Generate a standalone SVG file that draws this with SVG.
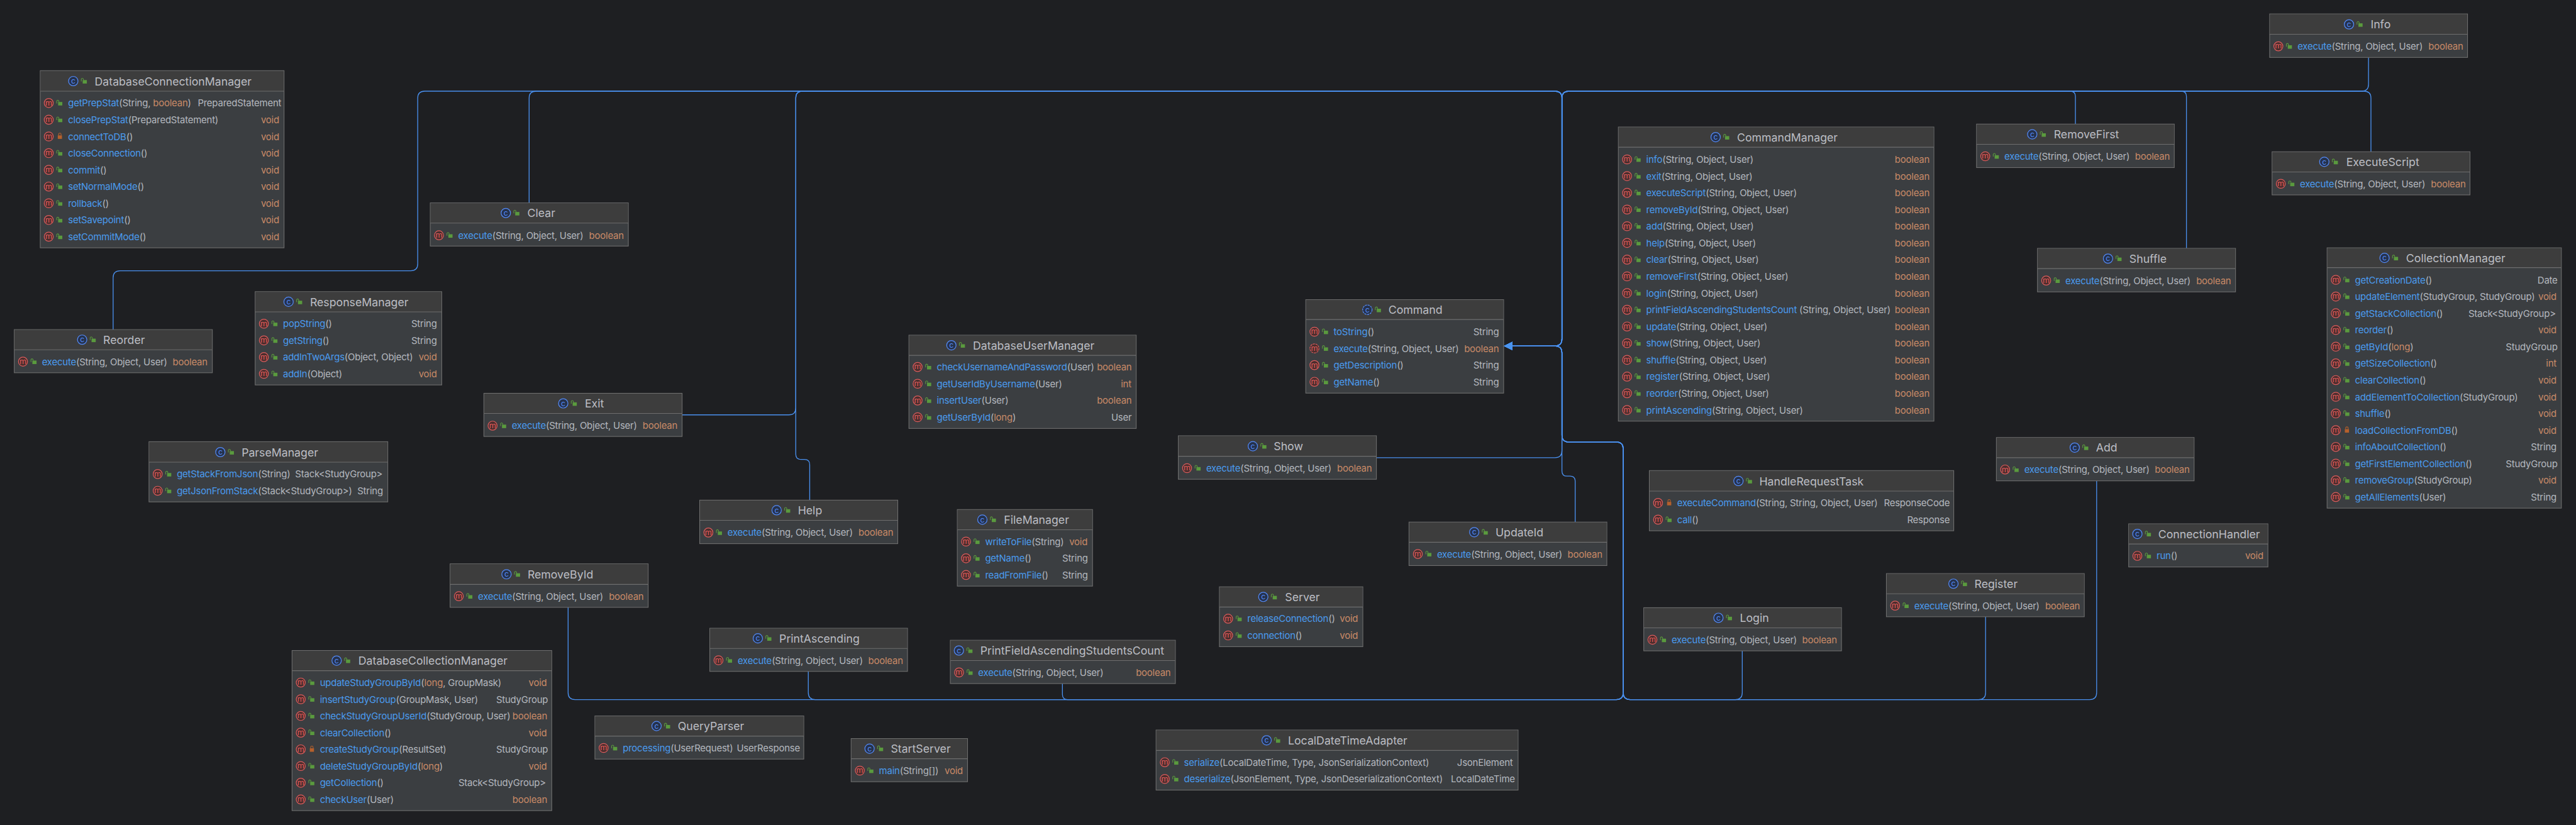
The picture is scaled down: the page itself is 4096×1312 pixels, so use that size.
<svg xmlns="http://www.w3.org/2000/svg" width="4096" height="1312" viewBox="0 0 4096 1312">
<style>
text{font-family:Inter,"Noto Sans","Liberation Sans",sans-serif}
.b{fill:#3B3E41;stroke:#6E6E6E;stroke-width:2}
.h{fill:#3D3D3D}
.l{stroke:#6E6E6E;stroke-width:2}
.T{font-size:32px;fill:#BCBEC4}
.r{font-size:27px;letter-spacing:-.38px;fill:#B4B8BF}
.n{fill:#4A9BEF}
.o{fill:#C98A67}
.t{font-size:27px;letter-spacing:-.38px;fill:#C98A67;text-anchor:end}
.s{font-size:27px;letter-spacing:-.38px;fill:#B4B8BF;text-anchor:end}
.c{fill:none;stroke:#4A90EE;stroke-width:2.4}
.mi{font-size:23px;fill:#E05C5C;text-anchor:middle}
.ci{font-size:22px;fill:#548AF7;text-anchor:middle}
</style>
<defs>
<marker id="arrow" markerUnits="userSpaceOnUse" markerWidth="26" markerHeight="26" refX="0" refY="12" orient="auto"><path d="M0 0V24L25 12Z" fill="#4A94F0"/></marker>
<g id="m"><circle r="13" fill="#4A2D2D" stroke="#DB5C5C" stroke-width="2.2"/><text class="mi" y="7">m</text></g>
<g id="ma"><circle r="13" fill="#4A2D2D" stroke="#DB5C5C" stroke-width="2.2" stroke-dasharray="6 2"/><text class="mi" y="7">m</text></g>
<g id="k"><circle r="13.5" fill="#25324D" stroke="#548AF7" stroke-width="2.2"/><text class="ci" y="7.5">c</text></g>
<g id="ka"><circle r="13.5" fill="#25324D" stroke="#548AF7" stroke-width="2.2" stroke-dasharray="6 2"/><text class="ci" y="7.5">c</text></g>
<g id="u"><rect x="-4" y="-3" width="12" height="10" fill="#5A9A3E"/><path d="M-8 1V-6A3.2 3.2 0 0 1 -2 -6V-3" fill="none" stroke="#5A9A3E" stroke-width="2"/></g>
<g id="p"><rect x="-6" y="-3" width="12" height="10" fill="#B5602C"/><path d="M-3.5 -3V-6A3.5 3.5 0 0 1 3.5 -6V-3" fill="none" stroke="#B5602C" stroke-width="2"/></g>
</defs>
<rect width="4096" height="1312" fill="#1E1F22"/>
<g transform="scale(.55351)">
<g id="connectors">
<path class="c" marker-end="url(#arrow)" d="M325 947V798Q325 778 345 778H1180Q1200 778 1200 758V282Q1200 262 1220 262H4467Q4487 262 4487 282V974Q4487 994 4467 994H4345"/>
<path class="c" marker-end="url(#arrow)" d="M1520 583V282Q1520 262 1540 262H4467Q4487 262 4487 282V974Q4487 994 4467 994H4345"/>
<path class="c" marker-end="url(#arrow)" d="M1960 1192H2266Q2286 1192 2286 1172V282Q2286 262 2306 262H4467Q4487 262 4487 282V974Q4487 994 4467 994H4345"/>
<path class="c" marker-end="url(#arrow)" d="M2326 1437V1335Q2326 1320 2311 1320H2301Q2286 1320 2286 1305V282Q2286 262 2306 262H4467Q4487 262 4487 282V974Q4487 994 4467 994H4345"/>
<path class="c" marker-end="url(#arrow)" d="M6804 165V242Q6804 262 6784 262H4507Q4487 262 4487 282V974Q4487 994 4467 994H4345"/>
<path class="c" marker-end="url(#arrow)" d="M6811 436V282Q6811 262 6791 262H4507Q4487 262 4487 282V974Q4487 994 4467 994H4345"/>
<path class="c" marker-end="url(#arrow)" d="M6281 713V277Q6281 262 6266 262H4507Q4487 262 4487 282V974Q4487 994 4467 994H4345"/>
<path class="c" marker-end="url(#arrow)" d="M5962 356V277Q5962 262 5947 262H4507Q4487 262 4487 282V974Q4487 994 4467 994H4345"/>
<path class="c" marker-end="url(#arrow)" d="M3954 1315H4467Q4487 1315 4487 1295V1014Q4487 994 4467 994H4345"/>
<path class="c" marker-end="url(#arrow)" d="M4525 1500V1383Q4525 1368 4510 1368H4502Q4487 1368 4487 1353V1014Q4487 994 4467 994H4345"/>
<path class="c" marker-end="url(#arrow)" d="M1632 1745V1990Q1632 2010 1652 2010H4643Q4663 2010 4663 1990V1290Q4663 1270 4643 1270H4507Q4487 1270 4487 1250V1014Q4487 994 4467 994H4345"/>
<path class="c" marker-end="url(#arrow)" d="M2322 1929V1990Q2322 2010 2342 2010H4643Q4663 2010 4663 1990V1290Q4663 1270 4643 1270H4507Q4487 1270 4487 1250V1014Q4487 994 4467 994H4345"/>
<path class="c" marker-end="url(#arrow)" d="M3052 1964V1995Q3052 2010 3067 2010H4643Q4663 2010 4663 1990V1290Q4663 1270 4643 1270H4507Q4487 1270 4487 1250V1014Q4487 994 4467 994H4345"/>
<path class="c" marker-end="url(#arrow)" d="M5005 1870V1990Q5005 2010 4985 2010H4683Q4663 2010 4663 1990V1290Q4663 1270 4643 1270H4507Q4487 1270 4487 1250V1014Q4487 994 4467 994H4345"/>
<path class="c" marker-end="url(#arrow)" d="M5704 1772V1990Q5704 2010 5684 2010H4683Q4663 2010 4663 1990V1290Q4663 1270 4643 1270H4507Q4487 1270 4487 1250V1014Q4487 994 4467 994H4345"/>
<path class="c" marker-end="url(#arrow)" d="M6023 1381V1990Q6023 2010 6003 2010H4683Q4663 2010 4663 1990V1290Q4663 1270 4643 1270H4507Q4487 1270 4487 1250V1014Q4487 994 4467 994H4345"/>
</g>

<g id="DatabaseConnectionManager">
<rect class="b" x="115.6" y="203" width="700.4" height="509"/><rect class="h" x="116.6" y="204" width="698.4" height="58"/><path class="l" d="M116 262H816"/>
<use href="#k" x="210.5" y="233"/><use href="#u" x="241.5" y="233"/><text class="T" x="272" y="245">DatabaseConnectionManager</text>
<use href="#m" x="140" y="296"/><use href="#u" x="171" y="296"/><text class="r" x="195.5" y="306"><tspan class="n">getPrepStat</tspan>(String, <tspan class="o">boolean</tspan>)</text><text class="s" x="808" y="306">PreparedStatement</text>
<use href="#m" x="140" y="344"/><use href="#u" x="171" y="344"/><text class="r" x="195.5" y="354"><tspan class="n">closePrepStat</tspan>(PreparedStatement)</text><text class="t" x="802" y="354">void</text>
<use href="#m" x="140" y="392"/><use href="#p" x="172" y="392"/><text class="r" x="195.5" y="402"><tspan class="n">connectToDB</tspan>()</text><text class="t" x="802" y="402">void</text>
<use href="#m" x="140" y="440"/><use href="#u" x="171" y="440"/><text class="r" x="195.5" y="450"><tspan class="n">closeConnection</tspan>()</text><text class="t" x="802" y="450">void</text>
<use href="#m" x="140" y="488"/><use href="#u" x="171" y="488"/><text class="r" x="195.5" y="498"><tspan class="n">commit</tspan>()</text><text class="t" x="802" y="498">void</text>
<use href="#m" x="140" y="536"/><use href="#u" x="171" y="536"/><text class="r" x="195.5" y="546"><tspan class="n">setNormalMode</tspan>()</text><text class="t" x="802" y="546">void</text>
<use href="#m" x="140" y="584"/><use href="#u" x="171" y="584"/><text class="r" x="195.5" y="594"><tspan class="n">rollback</tspan>()</text><text class="t" x="802" y="594">void</text>
<use href="#m" x="140" y="632"/><use href="#u" x="171" y="632"/><text class="r" x="195.5" y="642"><tspan class="n">setSavepoint</tspan>()</text><text class="t" x="802" y="642">void</text>
<use href="#m" x="140" y="680"/><use href="#u" x="171" y="680"/><text class="r" x="195.5" y="690"><tspan class="n">setCommitMode</tspan>()</text><text class="t" x="802" y="690">void</text>
</g>

<g id="Reorder">
<rect class="b" x="41" y="947" width="569" height="124"/><rect class="h" x="42" y="948" width="567" height="57"/><path class="l" d="M41 1005H610"/>
<use href="#k" x="236" y="976"/><use href="#u" x="267" y="976"/><text class="T" x="296.5" y="988">Reorder</text>
<use href="#m" x="66" y="1039"/><use href="#u" x="97" y="1039"/><text class="r" x="120.5" y="1049"><tspan class="n">execute</tspan>(String, Object, User)</text><text class="t" x="596" y="1049">boolean</text>
</g>

<g id="ResponseManager">
<rect class="b" x="733" y="838" width="536" height="268"/><rect class="h" x="734" y="839" width="534" height="57"/><path class="l" d="M733 896H1269"/>
<use href="#k" x="829" y="867"/><use href="#u" x="860" y="867"/><text class="T" x="890.5" y="879">ResponseManager</text>
<use href="#m" x="758" y="930"/><use href="#u" x="789" y="930"/><text class="r" x="813" y="940"><tspan class="n">popString</tspan>()</text><text class="s" x="1255" y="940">String</text>
<use href="#m" x="758" y="978"/><use href="#u" x="789" y="978"/><text class="r" x="813" y="988"><tspan class="n">getString</tspan>()</text><text class="s" x="1255" y="988">String</text>
<use href="#m" x="758" y="1026"/><use href="#u" x="789" y="1026"/><text class="r" x="813" y="1036"><tspan class="n">addInTwoArgs</tspan>(Object, Object)</text><text class="t" x="1255" y="1036">void</text>
<use href="#m" x="758" y="1074"/><use href="#u" x="789" y="1074"/><text class="r" x="813" y="1084"><tspan class="n">addIn</tspan>(Object)</text><text class="t" x="1255" y="1084">void</text>
</g>

<g id="Clear">
<rect class="b" x="1236" y="583" width="569" height="124"/><rect class="h" x="1237" y="584" width="567" height="57"/><path class="l" d="M1236 641H1805"/>
<use href="#k" x="1453" y="612"/><use href="#u" x="1484" y="612"/><text class="T" x="1515" y="624">Clear</text>
<use href="#m" x="1261" y="676"/><use href="#u" x="1292" y="676"/><text class="r" x="1316" y="686"><tspan class="n">execute</tspan>(String, Object, User)</text><text class="t" x="1792" y="686">boolean</text>
</g>

<g id="Exit">
<rect class="b" x="1390" y="1130" width="569.5" height="124"/><rect class="h" x="1391" y="1131" width="567.5" height="57"/><path class="l" d="M1390 1188H1959.5"/>
<use href="#k" x="1618" y="1159"/><use href="#u" x="1649" y="1159"/><text class="T" x="1680" y="1171">Exit</text>
<use href="#m" x="1415" y="1223"/><use href="#u" x="1446" y="1223"/><text class="r" x="1470" y="1233"><tspan class="n">execute</tspan>(String, Object, User)</text><text class="t" x="1946" y="1233">boolean</text>
</g>

<g id="ParseManager">
<rect class="b" x="428" y="1269" width="686" height="173"/><rect class="h" x="429" y="1270" width="684" height="58"/><path class="l" d="M428 1328H1114"/>
<use href="#k" x="633" y="1299"/><use href="#u" x="664" y="1299"/><text class="T" x="694" y="1311">ParseManager</text>
<use href="#m" x="453" y="1362"/><use href="#u" x="484" y="1362"/><text class="r" x="508" y="1372"><tspan class="n">getStackFromJson</tspan>(String)</text><text class="s" x="1099" y="1372">Stack&lt;StudyGroup&gt;</text>
<use href="#m" x="453" y="1410"/><use href="#u" x="484" y="1410"/><text class="r" x="508" y="1420"><tspan class="n">getJsonFromStack</tspan>(Stack&lt;StudyGroup&gt;)</text><text class="s" x="1100" y="1420">String</text>
</g>

<g id="DatabaseCollectionManager">
<rect class="b" x="839" y="1869" width="746" height="460"/><rect class="h" x="840" y="1870" width="744" height="57"/><path class="l" d="M839 1927H1585"/>
<use href="#k" x="967" y="1898"/><use href="#u" x="998" y="1898"/><text class="T" x="1029.5" y="1910">DatabaseCollectionManager</text>
<use href="#m" x="864" y="1961"/><use href="#u" x="895" y="1961"/><text class="r" x="919" y="1971"><tspan class="n">updateStudyGroupById</tspan>(<tspan class="o">long</tspan>, GroupMask)</text><text class="t" x="1571" y="1971">void</text>
<use href="#m" x="864" y="2009"/><use href="#u" x="895" y="2009"/><text class="r" x="919" y="2019"><tspan class="n">insertStudyGroup</tspan>(GroupMask, User)</text><text class="s" x="1574" y="2019">StudyGroup</text>
<use href="#m" x="864" y="2057"/><use href="#u" x="895" y="2057"/><text class="r" x="919" y="2067"><tspan class="n">checkStudyGroupUserId</tspan>(StudyGroup, User)</text><text class="t" x="1572" y="2067">boolean</text>
<use href="#m" x="864" y="2105"/><use href="#u" x="895" y="2105"/><text class="r" x="919" y="2115"><tspan class="n">clearCollection</tspan>()</text><text class="t" x="1571" y="2115">void</text>
<use href="#m" x="864" y="2153"/><use href="#p" x="896" y="2153"/><text class="r" x="919" y="2163"><tspan class="n">createStudyGroup</tspan>(ResultSet)</text><text class="s" x="1574" y="2163">StudyGroup</text>
<use href="#m" x="864" y="2201"/><use href="#u" x="895" y="2201"/><text class="r" x="919" y="2211"><tspan class="n">deleteStudyGroupById</tspan>(<tspan class="o">long</tspan>)</text><text class="t" x="1571" y="2211">void</text>
<use href="#m" x="864" y="2249"/><use href="#u" x="895" y="2249"/><text class="r" x="919" y="2259"><tspan class="n">getCollection</tspan>()</text><text class="s" x="1568" y="2259">Stack&lt;StudyGroup&gt;</text>
<use href="#m" x="864" y="2297"/><use href="#u" x="895" y="2297"/><text class="r" x="919" y="2307"><tspan class="n">checkUser</tspan>(User)</text><text class="t" x="1572" y="2307">boolean</text>
</g>

<g id="RemoveById">
<rect class="b" x="1293" y="1620" width="569" height="125"/><rect class="h" x="1294" y="1621" width="567" height="58"/><path class="l" d="M1293 1679H1862"/>
<use href="#k" x="1455" y="1650"/><use href="#u" x="1486" y="1650"/><text class="T" x="1515.6" y="1662">RemoveById</text>
<use href="#m" x="1318" y="1713"/><use href="#u" x="1349" y="1713"/><text class="r" x="1373" y="1723"><tspan class="n">execute</tspan>(String, Object, User)</text><text class="t" x="1849" y="1723">boolean</text>
</g>

<g id="Help">
<rect class="b" x="2010" y="1437" width="569" height="125"/><rect class="h" x="2011" y="1438" width="567" height="57"/><path class="l" d="M2010 1495H2579"/>
<use href="#k" x="2231" y="1466"/><use href="#u" x="2262" y="1466"/><text class="T" x="2292" y="1478">Help</text>
<use href="#m" x="2035" y="1530"/><use href="#u" x="2066" y="1530"/><text class="r" x="2090" y="1540"><tspan class="n">execute</tspan>(String, Object, User)</text><text class="t" x="2566" y="1540">boolean</text>
</g>

<g id="PrintAscending">
<rect class="b" x="2039" y="1805" width="568" height="124"/><rect class="h" x="2040" y="1806" width="566" height="57"/><path class="l" d="M2039 1863H2607"/>
<use href="#k" x="2177" y="1834"/><use href="#u" x="2208" y="1834"/><text class="T" x="2238.6" y="1846">PrintAscending</text>
<use href="#m" x="2064" y="1897"/><use href="#u" x="2095" y="1897"/><text class="r" x="2119" y="1907"><tspan class="n">execute</tspan>(String, Object, User)</text><text class="t" x="2594" y="1907">boolean</text>
</g>

<g id="QueryParser">
<rect class="b" x="1709" y="2057" width="600" height="124"/><rect class="h" x="1710" y="2058" width="598" height="57"/><path class="l" d="M1709 2115H2309"/>
<use href="#k" x="1886" y="2086"/><use href="#u" x="1917" y="2086"/><text class="T" x="1947" y="2098">QueryParser</text>
<use href="#m" x="1734" y="2149"/><use href="#u" x="1765" y="2149"/><text class="r" x="1789" y="2159"><tspan class="n">processing</tspan>(UserRequest)</text><text class="s" x="2298" y="2159">UserResponse</text>
</g>

<g id="StartServer">
<rect class="b" x="2445" y="2122" width="334.5" height="124"/><rect class="h" x="2446" y="2123" width="332.5" height="57"/><path class="l" d="M2445 2180H2779.5"/>
<use href="#k" x="2498" y="2151"/><use href="#u" x="2529" y="2151"/><text class="T" x="2559" y="2163">StartServer</text>
<use href="#m" x="2470" y="2214"/><use href="#u" x="2501" y="2214"/><text class="r" x="2525" y="2224"><tspan class="n">main</tspan>(String[])</text><text class="t" x="2766" y="2224">void</text>
</g>

<g id="DatabaseUserManager">
<rect class="b" x="2611" y="963" width="653" height="268"/><rect class="h" x="2612" y="964" width="651" height="57"/><path class="l" d="M2611 1021H3264"/>
<use href="#k" x="2733" y="992"/><use href="#u" x="2764" y="992"/><text class="T" x="2795" y="1004">DatabaseUserManager</text>
<use href="#m" x="2636" y="1054.4"/><use href="#u" x="2667" y="1054.4"/><text class="r" x="2691" y="1064.4"><tspan class="n">checkUsernameAndPassword</tspan>(User)</text><text class="t" x="3251" y="1064.4">boolean</text>
<use href="#m" x="2636" y="1102.5"/><use href="#u" x="2667" y="1102.5"/><text class="r" x="2691" y="1112.5"><tspan class="n">getUserIdByUsername</tspan>(User)</text><text class="t" x="3250" y="1112.5">int</text>
<use href="#m" x="2636" y="1150.6"/><use href="#u" x="2667" y="1150.6"/><text class="r" x="2691" y="1160.6"><tspan class="n">insertUser</tspan>(User)</text><text class="t" x="3251" y="1160.6">boolean</text>
<use href="#m" x="2636" y="1198.7"/><use href="#u" x="2667" y="1198.7"/><text class="r" x="2691" y="1208.7"><tspan class="n">getUserById</tspan>(<tspan class="o">long</tspan>)</text><text class="s" x="3251" y="1208.7">User</text>
</g>

<g id="FileManager">
<rect class="b" x="2750" y="1464" width="388.5" height="220"/><rect class="h" x="2751" y="1465" width="386.5" height="57"/><path class="l" d="M2750 1522H3138.5"/>
<use href="#k" x="2822" y="1493"/><use href="#u" x="2853" y="1493"/><text class="T" x="2884" y="1505">FileManager</text>
<use href="#m" x="2775" y="1556"/><use href="#u" x="2806" y="1556"/><text class="r" x="2830" y="1566"><tspan class="n">writeToFile</tspan>(String)</text><text class="t" x="3124" y="1566">void</text>
<use href="#m" x="2775" y="1604"/><use href="#u" x="2806" y="1604"/><text class="r" x="2830" y="1614"><tspan class="n">getName</tspan>()</text><text class="s" x="3125" y="1614">String</text>
<use href="#m" x="2775" y="1652"/><use href="#u" x="2806" y="1652"/><text class="r" x="2830" y="1662"><tspan class="n">readFromFile</tspan>()</text><text class="s" x="3125" y="1662">String</text>
</g>

<g id="PrintFieldAscendingStudentsCount">
<rect class="b" x="2730" y="1839.5" width="646.5" height="124.5"/><rect class="h" x="2731" y="1840.5" width="644.5" height="57.5"/><path class="l" d="M2730 1898H3376.5"/>
<use href="#k" x="2754.6" y="1869"/><use href="#u" x="2785.6" y="1869"/><text class="T" x="2816" y="1881">PrintFieldAscendingStudentsCount</text>
<use href="#m" x="2755" y="1932"/><use href="#u" x="2786" y="1932"/><text class="r" x="2810" y="1942"><tspan class="n">execute</tspan>(String, Object, User)</text><text class="t" x="3363" y="1942">boolean</text>
</g>

<g id="Server">
<rect class="b" x="3503" y="1686" width="412" height="172"/><rect class="h" x="3504" y="1687" width="410" height="57"/><path class="l" d="M3503 1744H3915"/>
<use href="#k" x="3629" y="1715"/><use href="#u" x="3660" y="1715"/><text class="T" x="3691.5" y="1727">Server</text>
<use href="#m" x="3528" y="1777.6"/><use href="#u" x="3559" y="1777.6"/><text class="r" x="3583" y="1787.6"><tspan class="n">releaseConnection</tspan>()</text><text class="t" x="3901" y="1787.6">void</text>
<use href="#m" x="3528" y="1825.7"/><use href="#u" x="3559" y="1825.7"/><text class="r" x="3583" y="1835.7"><tspan class="n">connection</tspan>()</text><text class="t" x="3901" y="1835.7">void</text>
</g>

<g id="Show">
<rect class="b" x="3385" y="1252" width="569" height="125"/><rect class="h" x="3386" y="1253" width="567" height="58"/><path class="l" d="M3385 1311H3954"/>
<use href="#k" x="3599" y="1282"/><use href="#u" x="3630" y="1282"/><text class="T" x="3659" y="1294">Show</text>
<use href="#m" x="3410" y="1345"/><use href="#u" x="3441" y="1345"/><text class="r" x="3465" y="1355"><tspan class="n">execute</tspan>(String, Object, User)</text><text class="t" x="3941" y="1355">boolean</text>
</g>

<g id="LocalDateTimeAdapter">
<rect class="b" x="3321" y="2097.5" width="1040" height="172.5"/><rect class="h" x="3322" y="2098.5" width="1038" height="57.5"/><path class="l" d="M3321 2156H4361"/>
<use href="#k" x="3638.5" y="2127"/><use href="#u" x="3669.5" y="2127"/><text class="T" x="3700" y="2139">LocalDateTimeAdapter</text>
<use href="#m" x="3346" y="2190"/><use href="#u" x="3377" y="2190"/><text class="r" x="3401" y="2200"><tspan class="n">serialize</tspan>(LocalDateTime, Type, JsonSerializationContext)</text><text class="s" x="4346" y="2200">JsonElement</text>
<use href="#m" x="3346" y="2238"/><use href="#u" x="3377" y="2238"/><text class="r" x="3401" y="2248"><tspan class="n">deserialize</tspan>(JsonElement, Type, JsonDeserializationContext)</text><text class="s" x="4352" y="2248">LocalDateTime</text>
</g>

<g id="Command">
<rect class="b" x="3751" y="861" width="568.5" height="268.5"/><rect class="h" x="3752" y="862" width="566.5" height="56"/><path class="l" d="M3751 918H4319.5"/>
<use href="#ka" x="3928" y="890"/><use href="#u" x="3959" y="890"/><text class="T" x="3988.6" y="902">Command</text>
<use href="#m" x="3776" y="953"/><use href="#u" x="3807" y="953"/><text class="r" x="3831" y="963"><tspan class="n">toString</tspan>()</text><text class="s" x="4306" y="963">String</text>
<use href="#ma" x="3776" y="1001"/><use href="#u" x="3807" y="1001"/><text class="r" x="3831" y="1011"><tspan class="n">execute</tspan>(String, Object, User)</text><text class="t" x="4306" y="1011">boolean</text>
<use href="#m" x="3776" y="1049"/><use href="#u" x="3807" y="1049"/><text class="r" x="3831" y="1059"><tspan class="n">getDescription</tspan>()</text><text class="s" x="4306" y="1059">String</text>
<use href="#m" x="3776" y="1097"/><use href="#u" x="3807" y="1097"/><text class="r" x="3831" y="1107"><tspan class="n">getName</tspan>()</text><text class="s" x="4306" y="1107">String</text>
</g>

<g id="UpdateId">
<rect class="b" x="4047.6" y="1500" width="568.4" height="125"/><rect class="h" x="4048.6" y="1501" width="566.4" height="57"/><path class="l" d="M4047.6 1558H4616"/>
<use href="#k" x="4235" y="1529"/><use href="#u" x="4266" y="1529"/><text class="T" x="4296" y="1541">UpdateId</text>
<use href="#m" x="4073" y="1591.6"/><use href="#u" x="4104" y="1591.6"/><text class="r" x="4128" y="1601.6"><tspan class="n">execute</tspan>(String, Object, User)</text><text class="t" x="4603" y="1601.6">boolean</text>
</g>

<g id="CommandManager">
<rect class="b" x="4649" y="365" width="906.5" height="845"/><rect class="h" x="4650" y="366" width="904.5" height="57"/><path class="l" d="M4649 423H5555.5"/>
<use href="#k" x="4928.5" y="394"/><use href="#u" x="4959.5" y="394"/><text class="T" x="4990" y="406">CommandManager</text>
<use href="#m" x="4674" y="458"/><use href="#u" x="4705" y="458"/><text class="r" x="4729" y="468"><tspan class="n">info</tspan>(String, Object, User)</text><text class="t" x="5543" y="468">boolean</text>
<use href="#m" x="4674" y="506"/><use href="#u" x="4705" y="506"/><text class="r" x="4729" y="516"><tspan class="n">exit</tspan>(String, Object, User)</text><text class="t" x="5543" y="516">boolean</text>
<use href="#m" x="4674" y="554"/><use href="#u" x="4705" y="554"/><text class="r" x="4729" y="564"><tspan class="n">executeScript</tspan>(String, Object, User)</text><text class="t" x="5543" y="564">boolean</text>
<use href="#m" x="4674" y="602"/><use href="#u" x="4705" y="602"/><text class="r" x="4729" y="612"><tspan class="n">removeById</tspan>(String, Object, User)</text><text class="t" x="5543" y="612">boolean</text>
<use href="#m" x="4674" y="650"/><use href="#u" x="4705" y="650"/><text class="r" x="4729" y="660"><tspan class="n">add</tspan>(String, Object, User)</text><text class="t" x="5543" y="660">boolean</text>
<use href="#m" x="4674" y="698"/><use href="#u" x="4705" y="698"/><text class="r" x="4729" y="708"><tspan class="n">help</tspan>(String, Object, User)</text><text class="t" x="5543" y="708">boolean</text>
<use href="#m" x="4674" y="746"/><use href="#u" x="4705" y="746"/><text class="r" x="4729" y="756"><tspan class="n">clear</tspan>(String, Object, User)</text><text class="t" x="5543" y="756">boolean</text>
<use href="#m" x="4674" y="794"/><use href="#u" x="4705" y="794"/><text class="r" x="4729" y="804"><tspan class="n">removeFirst</tspan>(String, Object, User)</text><text class="t" x="5543" y="804">boolean</text>
<use href="#m" x="4674" y="842"/><use href="#u" x="4705" y="842"/><text class="r" x="4729" y="852"><tspan class="n">login</tspan>(String, Object, User)</text><text class="t" x="5543" y="852">boolean</text>
<use href="#m" x="4674" y="890"/><use href="#u" x="4705" y="890"/><text class="r" x="4729" y="900"><tspan class="n">printFieldAscendingStudentsCount</tspan> (String, Object, User)</text><text class="t" x="5543" y="900">boolean</text>
<use href="#m" x="4674" y="938"/><use href="#u" x="4705" y="938"/><text class="r" x="4729" y="948"><tspan class="n">update</tspan>(String, Object, User)</text><text class="t" x="5543" y="948">boolean</text>
<use href="#m" x="4674" y="986"/><use href="#u" x="4705" y="986"/><text class="r" x="4729" y="996"><tspan class="n">show</tspan>(String, Object, User)</text><text class="t" x="5543" y="996">boolean</text>
<use href="#m" x="4674" y="1034"/><use href="#u" x="4705" y="1034"/><text class="r" x="4729" y="1044"><tspan class="n">shuffle</tspan>(String, Object, User)</text><text class="t" x="5543" y="1044">boolean</text>
<use href="#m" x="4674" y="1082"/><use href="#u" x="4705" y="1082"/><text class="r" x="4729" y="1092"><tspan class="n">register</tspan>(String, Object, User)</text><text class="t" x="5543" y="1092">boolean</text>
<use href="#m" x="4674" y="1130"/><use href="#u" x="4705" y="1130"/><text class="r" x="4729" y="1140"><tspan class="n">reorder</tspan>(String, Object, User)</text><text class="t" x="5543" y="1140">boolean</text>
<use href="#m" x="4674" y="1178"/><use href="#u" x="4705" y="1178"/><text class="r" x="4729" y="1188"><tspan class="n">printAscending</tspan>(String, Object, User)</text><text class="t" x="5543" y="1188">boolean</text>
</g>

<g id="HandleRequestTask">
<rect class="b" x="4738" y="1352" width="874.5" height="173"/><rect class="h" x="4739" y="1353" width="872.5" height="58"/><path class="l" d="M4738 1411H5612.5"/>
<use href="#k" x="4994" y="1382"/><use href="#u" x="5025" y="1382"/><text class="T" x="5054" y="1394">HandleRequestTask</text>
<use href="#m" x="4763" y="1445"/><use href="#p" x="4795" y="1445"/><text class="r" x="4818" y="1455"><tspan class="n">executeCommand</tspan>(String, String, Object, User)</text><text class="s" x="5601" y="1455">ResponseCode</text>
<use href="#m" x="4763" y="1493"/><use href="#u" x="4794" y="1493"/><text class="r" x="4818" y="1503"><tspan class="n">call</tspan>()</text><text class="s" x="5601" y="1503">Response</text>
</g>

<g id="Login">
<rect class="b" x="4722" y="1746" width="568" height="124"/><rect class="h" x="4723" y="1747" width="566" height="57"/><path class="l" d="M4722 1804H5290"/>
<use href="#k" x="4936.5" y="1775"/><use href="#u" x="4967.5" y="1775"/><text class="T" x="4998" y="1787">Login</text>
<use href="#m" x="4747" y="1838"/><use href="#u" x="4778" y="1838"/><text class="r" x="4802" y="1848"><tspan class="n">execute</tspan>(String, Object, User)</text><text class="t" x="5277" y="1848">boolean</text>
</g>

<g id="Register">
<rect class="b" x="5419" y="1648" width="568.5" height="124"/><rect class="h" x="5420" y="1649" width="566.5" height="57"/><path class="l" d="M5419 1706H5987.5"/>
<use href="#k" x="5611.6" y="1677"/><use href="#u" x="5642.6" y="1677"/><text class="T" x="5672" y="1689">Register</text>
<use href="#m" x="5444" y="1740"/><use href="#u" x="5475" y="1740"/><text class="r" x="5499" y="1750"><tspan class="n">execute</tspan>(String, Object, User)</text><text class="t" x="5975" y="1750">boolean</text>
</g>

<g id="Add">
<rect class="b" x="5735" y="1257" width="568" height="124.5"/><rect class="h" x="5736" y="1258" width="566" height="57"/><path class="l" d="M5735 1315H6303"/>
<use href="#k" x="5960" y="1286"/><use href="#u" x="5991" y="1286"/><text class="T" x="6021" y="1298">Add</text>
<use href="#m" x="5760" y="1349"/><use href="#u" x="5791" y="1349"/><text class="r" x="5815" y="1359"><tspan class="n">execute</tspan>(String, Object, User)</text><text class="t" x="6290" y="1359">boolean</text>
</g>

<g id="ConnectionHandler">
<rect class="b" x="6115" y="1505" width="400" height="124"/><rect class="h" x="6116" y="1506" width="398" height="57"/><path class="l" d="M6115 1563H6515"/>
<use href="#k" x="6140" y="1534"/><use href="#u" x="6171" y="1534"/><text class="T" x="6200" y="1546">ConnectionHandler</text>
<use href="#m" x="6140" y="1597"/><use href="#u" x="6171" y="1597"/><text class="r" x="6195" y="1607"><tspan class="n">run</tspan>()</text><text class="t" x="6502" y="1607">void</text>
</g>

<g id="RemoveFirst">
<rect class="b" x="5678" y="356.5" width="568" height="125"/><rect class="h" x="5679" y="357.5" width="566" height="57"/><path class="l" d="M5678 414.5H6246"/>
<use href="#k" x="5838" y="386"/><use href="#u" x="5869" y="386"/><text class="T" x="5900" y="398">RemoveFirst</text>
<use href="#m" x="5703" y="449"/><use href="#u" x="5734" y="449"/><text class="r" x="5758" y="459"><tspan class="n">execute</tspan>(String, Object, User)</text><text class="t" x="6233" y="459">boolean</text>
</g>

<g id="Shuffle">
<rect class="b" x="5853" y="713.6" width="569" height="125"/><rect class="h" x="5854" y="714.6" width="567" height="57"/><path class="l" d="M5853 771.7H6422"/>
<use href="#k" x="6055.6" y="743"/><use href="#u" x="6086.6" y="743"/><text class="T" x="6117" y="755">Shuffle</text>
<use href="#m" x="5878" y="806"/><use href="#u" x="5909" y="806"/><text class="r" x="5933" y="816"><tspan class="n">execute</tspan>(String, Object, User)</text><text class="t" x="6409" y="816">boolean</text>
</g>

<g id="Info">
<rect class="b" x="6520" y="40" width="568.5" height="125"/><rect class="h" x="6521" y="41" width="566.5" height="57.5"/><path class="l" d="M6520 98.5H7088.5"/>
<use href="#k" x="6748" y="70"/><use href="#u" x="6779" y="70"/><text class="T" x="6810" y="82">Info</text>
<use href="#m" x="6545" y="133"/><use href="#u" x="6576" y="133"/><text class="r" x="6600" y="143"><tspan class="n">execute</tspan>(String, Object, User)</text><text class="t" x="7076" y="143">boolean</text>
</g>

<g id="ExecuteScript">
<rect class="b" x="6527" y="436" width="568.5" height="124"/><rect class="h" x="6528" y="437" width="566.5" height="57"/><path class="l" d="M6527 494H7095.5"/>
<use href="#k" x="6677" y="465"/><use href="#u" x="6708" y="465"/><text class="T" x="6740" y="477">ExecuteScript</text>
<use href="#m" x="6552" y="528"/><use href="#u" x="6583" y="528"/><text class="r" x="6607" y="538"><tspan class="n">execute</tspan>(String, Object, User)</text><text class="t" x="7083" y="538">boolean</text>
</g>

<g id="CollectionManager">
<rect class="b" x="6685" y="712" width="673" height="748"/><rect class="h" x="6686" y="713" width="671" height="56"/><path class="l" d="M6685 769H7358"/>
<use href="#k" x="6850" y="741"/><use href="#u" x="6881" y="741"/><text class="T" x="6912" y="753">CollectionManager</text>
<use href="#m" x="6710" y="804"/><use href="#u" x="6741" y="804"/><text class="r" x="6765" y="814"><tspan class="n">getCreationDate</tspan>()</text><text class="s" x="7347" y="814">Date</text>
<use href="#m" x="6710" y="852"/><use href="#u" x="6741" y="852"/><text class="r" x="6765" y="862"><tspan class="n">updateElement</tspan>(StudyGroup, StudyGroup)</text><text class="t" x="7344" y="862">void</text>
<use href="#m" x="6710" y="900"/><use href="#u" x="6741" y="900"/><text class="r" x="6765" y="910"><tspan class="n">getStackCollection</tspan>()</text><text class="s" x="7342" y="910">Stack&lt;StudyGroup&gt;</text>
<use href="#m" x="6710" y="948"/><use href="#u" x="6741" y="948"/><text class="r" x="6765" y="958"><tspan class="n">reorder</tspan>()</text><text class="t" x="7344" y="958">void</text>
<use href="#m" x="6710" y="996"/><use href="#u" x="6741" y="996"/><text class="r" x="6765" y="1006"><tspan class="n">getById</tspan>(<tspan class="o">long</tspan>)</text><text class="s" x="7347" y="1006">StudyGroup</text>
<use href="#m" x="6710" y="1044"/><use href="#u" x="6741" y="1044"/><text class="r" x="6765" y="1054"><tspan class="n">getSizeCollection</tspan>()</text><text class="t" x="7344" y="1054">int</text>
<use href="#m" x="6710" y="1092"/><use href="#u" x="6741" y="1092"/><text class="r" x="6765" y="1102"><tspan class="n">clearCollection</tspan>()</text><text class="t" x="7344" y="1102">void</text>
<use href="#m" x="6710" y="1140"/><use href="#u" x="6741" y="1140"/><text class="r" x="6765" y="1150"><tspan class="n">addElementToCollection</tspan>(StudyGroup)</text><text class="t" x="7344" y="1150">void</text>
<use href="#m" x="6710" y="1188"/><use href="#u" x="6741" y="1188"/><text class="r" x="6765" y="1198"><tspan class="n">shuffle</tspan>()</text><text class="t" x="7344" y="1198">void</text>
<use href="#m" x="6710" y="1236"/><use href="#p" x="6742" y="1236"/><text class="r" x="6765" y="1246"><tspan class="n">loadCollectionFromDB</tspan>()</text><text class="t" x="7344" y="1246">void</text>
<use href="#m" x="6710" y="1284"/><use href="#u" x="6741" y="1284"/><text class="r" x="6765" y="1294"><tspan class="n">infoAboutCollection</tspan>()</text><text class="s" x="7344" y="1294">String</text>
<use href="#m" x="6710" y="1332"/><use href="#u" x="6741" y="1332"/><text class="r" x="6765" y="1342"><tspan class="n">getFirstElementCollection</tspan>()</text><text class="s" x="7347" y="1342">StudyGroup</text>
<use href="#m" x="6710" y="1380"/><use href="#u" x="6741" y="1380"/><text class="r" x="6765" y="1390"><tspan class="n">removeGroup</tspan>(StudyGroup)</text><text class="t" x="7344" y="1390">void</text>
<use href="#m" x="6710" y="1428"/><use href="#u" x="6741" y="1428"/><text class="r" x="6765" y="1438"><tspan class="n">getAllElements</tspan>(User)</text><text class="s" x="7344" y="1438">String</text>
</g>
</g>
</svg>
